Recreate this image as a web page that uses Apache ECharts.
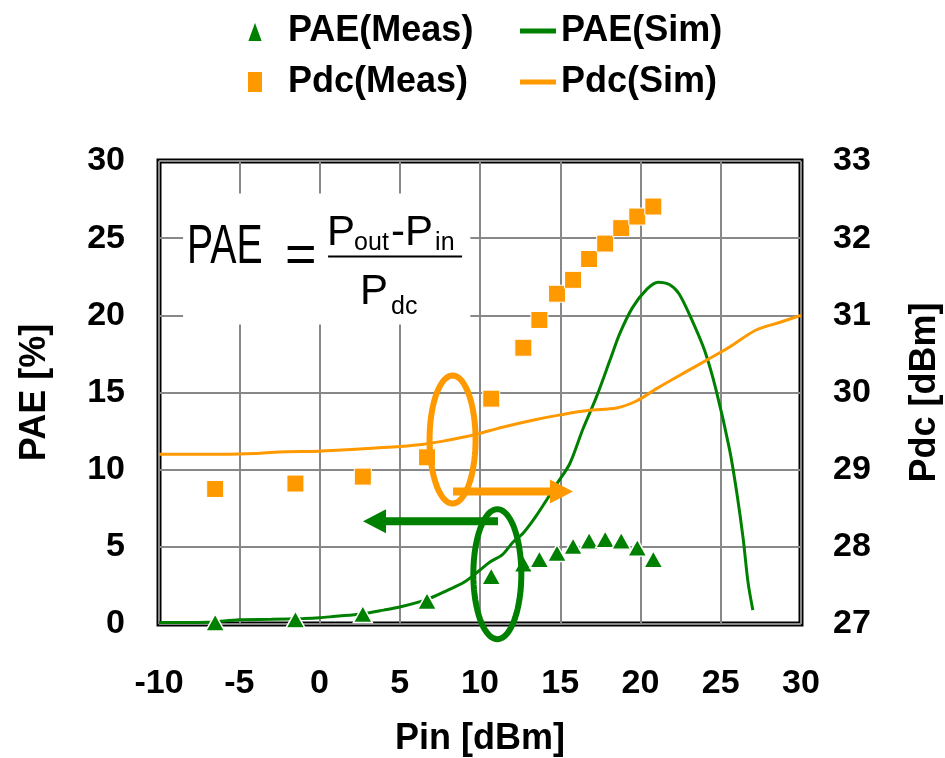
<!DOCTYPE html>
<html>
<head>
<meta charset="utf-8">
<script src="https://cdn.jsdelivr.net/npm/echarts@6/dist/echarts.min.js"></script>
<style>
  html, body { margin: 0; padding: 0; background: #fff; }
  #chart { width: 945px; height: 758px; }
</style>
</head>
<body>
<div id="chart"></div>
<script>
// Measured points (shared input power for PAE and Pdc)
const pinMeas = [-6.5, -1.5, 2.7, 6.7, 10.7, 12.7, 13.7, 14.8, 15.8, 16.8, 17.8, 18.8, 19.8, 20.8];
const paeMeas = [0.1, 0.3, 0.65, 1.5, 3.1, 3.9, 4.2, 4.6, 5.05, 5.4, 5.5, 5.4, 4.95, 4.2];
const pdcMeas = [28.75, 28.82, 28.91, 29.16, 29.92, 30.58, 30.94, 31.28, 31.46, 31.73, 31.93, 32.13, 32.28, 32.41];

// Simulated PAE curve
const pinSimPae = [-10, -7, -5, -3, -1, 0, 1, 2.6, 4, 5, 6.7, 8, 9, 10, 10.6, 11.4, 12.05, 12.7, 13.5, 14.8, 15.6, 16.4,
  17.25, 18.1, 18.7, 19.5, 20.4, 21.1, 21.8, 22.4, 23.2, 24.0, 24.7, 25.55, 26.0, 26.4, 26.7, 27.0];
const paeSim = [0.1, 0.12, 0.28, 0.3, 0.35, 0.4, 0.5, 0.65, 0.9, 1.1, 1.6, 2.2, 2.7, 3.5, 4.0, 4.5, 5.3, 5.9, 7.0, 9.1, 10.4, 12.6,
  14.7, 17.1, 18.8, 20.5, 21.7, 22.15, 22.0, 21.4, 19.7, 17.7, 15.2, 11.3, 8.5, 5.5, 2.7, 0.9];

// Simulated Pdc curve
const pinSimPdc = [-10, -6, -4, -2.5, 0, 2, 3.5, 5, 6.5, 7.7, 9.4, 10, 11.4, 13.5, 15, 16.8, 18.5, 19.75, 21, 22.85, 24.3, 25.55, 27.2, 28.7, 30];
const pdcSim = [29.2, 29.2, 29.21, 29.23, 29.24, 29.26, 29.28, 29.3, 29.33, 29.37, 29.44, 29.47, 29.55, 29.65, 29.71, 29.77, 29.8, 29.89, 30.05, 30.27, 30.44, 30.59, 30.81, 30.91, 31.0];

// Axis ranges
const xRange = [-10, 30, 5];
const paeRange = [0, 30, 5];
const pdcRange = [27, 33, 1];

const GREEN = '#008000';
const ORANGE = '#FF9900';
const FONT = '"Liberation Sans", Arial, sans-serif';

const zip = (xs, ys) => xs.map((x, i) => [x, ys[i]]);

const chart = echarts.init(document.getElementById('chart'), null, { renderer: 'canvas' });

const labelStyle = { color: '#000', fontWeight: 'bold', fontSize: 34, fontFamily: FONT };
const nameStyle = { color: '#000', fontWeight: 'bold', fontSize: 36, fontFamily: FONT };
const legendText = { color: '#000', fontWeight: 'bold', fontSize: 36, fontFamily: FONT };

chart.setOption({
  animation: false,
  backgroundColor: '#fff',
  grid: {
    left: 159, right: 144, top: 161, bottom: 134,
    outerBoundsMode: 'none', containLabel: false,
    show: true, borderColor: '#000', borderWidth: 5, backgroundColor: 'transparent'
  },
  legend: [
    {
      orient: 'vertical', left: 246, top: 13, itemGap: 15, padding: 0,
      itemWidth: 16, itemHeight: 22,
      textStyle: Object.assign({ padding: [0, 0, 0, 20] }, legendText),
      data: [{ name: 'PAE(Meas)', icon: 'triangle' }, { name: 'Pdc(Meas)', icon: 'rect' }]
    },
    {
      orient: 'vertical', left: 520, top: 13, itemGap: 15, padding: 0,
      itemWidth: 36, itemHeight: 5,
      textStyle: legendText,
      data: [{ name: 'PAE(Sim)', icon: 'rect' }, { name: 'Pdc(Sim)', icon: 'rect' }]
    }
  ],
  xAxis: {
    type: 'value', min: xRange[0], max: xRange[1], interval: xRange[2],
    name: 'Pin [dBm]', nameLocation: 'middle', nameGap: 97, nameTextStyle: nameStyle,
    axisLine: { show: false }, axisTick: { show: false },
    axisLabel: Object.assign({ margin: 43 }, labelStyle),
    splitLine: { show: true, lineStyle: { color: '#888', width: 2 } }
  },
  yAxis: [
    {
      type: 'value', min: paeRange[0], max: paeRange[1], interval: paeRange[2],
      name: 'PAE [%]', nameLocation: 'middle', nameGap: 106, nameRotate: 90, nameTextStyle: nameStyle,
      axisLine: { show: false }, axisTick: { show: false },
      axisLabel: Object.assign({ margin: 34 }, labelStyle),
      splitLine: { show: true, lineStyle: { color: '#888', width: 2 } }
    },
    {
      type: 'value', position: 'right', min: pdcRange[0], max: pdcRange[1], interval: pdcRange[2],
      name: 'Pdc [dBm]', nameLocation: 'middle', nameGap: 106, nameRotate: 90, nameTextStyle: nameStyle,
      axisLine: { show: false }, axisTick: { show: false },
      axisLabel: Object.assign({ margin: 32 }, labelStyle),
      splitLine: { show: false }
    }
  ],
  series: [
    {
      name: 'PAE(Sim)', type: 'line', yAxisIndex: 0, data: zip(pinSimPae, paeSim),
      showSymbol: false, symbol: 'none', smooth: 0.3, z: 3,
      itemStyle: { color: GREEN }, lineStyle: { color: GREEN, width: 3 }
    },
    {
      name: 'Pdc(Sim)', type: 'line', yAxisIndex: 1, data: zip(pinSimPdc, pdcSim),
      showSymbol: false, symbol: 'none', smooth: 0.3, z: 3,
      itemStyle: { color: ORANGE }, lineStyle: { color: ORANGE, width: 3 }
    },
    {
      name: 'PAE(Meas)', type: 'scatter', yAxisIndex: 0, data: zip(pinMeas, paeMeas),
      symbol: 'triangle', symbolSize: [19, 17], z: 4,
      itemStyle: { color: GREEN, borderColor: '#fff', borderWidth: 1.5, opacity: 1 }
    },
    {
      name: 'Pdc(Meas)', type: 'scatter', yAxisIndex: 1, data: zip(pinMeas, pdcMeas),
      symbol: 'rect', symbolSize: 17, z: 4,
      itemStyle: { color: ORANGE, borderColor: '#fff', borderWidth: 1, opacity: 1 }
    }
  ]
});

// ---- Annotations: formula box, grouping ellipses and axis arrows ----
const px = (x, y) => chart.convertToPixel({ gridIndex: 0 }, [x, y]);

// open ellipse (gap on its left side), drawn as a polyline
function openEllipse(center, rx, ry, gapTop, gapBottom, color) {
  const [cx, cy] = px(center[0], center[1]);
  const t0 = Math.PI + Math.asin(gapTop / ry);
  const t1 = 3 * Math.PI - Math.asin(gapBottom / ry);
  const pts = [];
  const n = 80;
  for (let i = 0; i <= n; i++) {
    const t = t0 + (t1 - t0) * i / n;
    pts.push([cx + rx * Math.cos(t), cy + ry * Math.sin(t)]);
  }
  return {
    type: 'polyline', z: 20, silent: true,
    shape: { points: pts },
    style: { stroke: color, lineWidth: 6, fill: null, lineCap: 'butt' }
  };
}

// block arrow between two points on the same level
function arrow(from, to, color) {
  const [x1, y] = px(from[0], from[1]);
  const [x2] = px(to[0], from[1]);
  const dir = x2 > x1 ? 1 : -1;
  const head = 23, hw = 12, sw = 4;
  const xb = x2 - dir * head;
  return {
    type: 'polygon', z: 20, silent: true,
    shape: { points: [[x1, y - sw], [xb, y - sw], [xb, y - hw], [x2, y], [xb, y + hw], [xb, y + sw], [x1, y + sw]] },
    style: { fill: color }
  };
}

function txt(x, y, text, size, scaleX) {
  return {
    type: 'text', x: x, y: y, z: 30, silent: true, scaleX: scaleX || 1,
    style: { text: text, font: 'normal ' + size + 'px ' + FONT, fill: '#000', align: 'left', verticalAlign: 'middle' }
  };
}

const boxA = px(-8.5, 27.9);
const boxB = px(9.4, 19.4);
const bx = boxA[0], by = boxA[1];

chart.setOption({
  graphic: [
    {
      type: 'rect', z: 10, silent: true,
      shape: { x: bx, y: by, width: boxB[0] - bx, height: boxB[1] - by },
      style: { fill: '#fff' }
    },
    txt(bx + 4, by + 54, 'PAE', 56, 0.7),
    txt(bx + 102, by + 64, '=', 54),
    {
      type: 'rect', z: 30, silent: true,
      shape: { x: bx + 145, y: by + 62, width: 134, height: 2 },
      style: { fill: '#000' }
    },
    txt(bx + 144, by + 40, 'P', 42),
    txt(bx + 171, by + 50, 'out', 25),
    txt(bx + 208, by + 40, '-', 42),
    txt(bx + 222, by + 40, 'P', 42),
    txt(bx + 252, by + 50, 'in', 25),
    txt(bx + 177, by + 99, 'P', 42),
    txt(bx + 208, by + 114, 'dc', 25),
    openEllipse([8.29, 11.95], 23, 64, -30, 27, ORANGE),
    openEllipse([11.08, 3.23], 24, 65, -30, 28, GREEN),
    arrow([8.32, 8.58], [15.79, 8.58], ORANGE),
    arrow([11.12, 6.65], [2.71, 6.65], GREEN)
  ]
});
</script>
</body>
</html>
